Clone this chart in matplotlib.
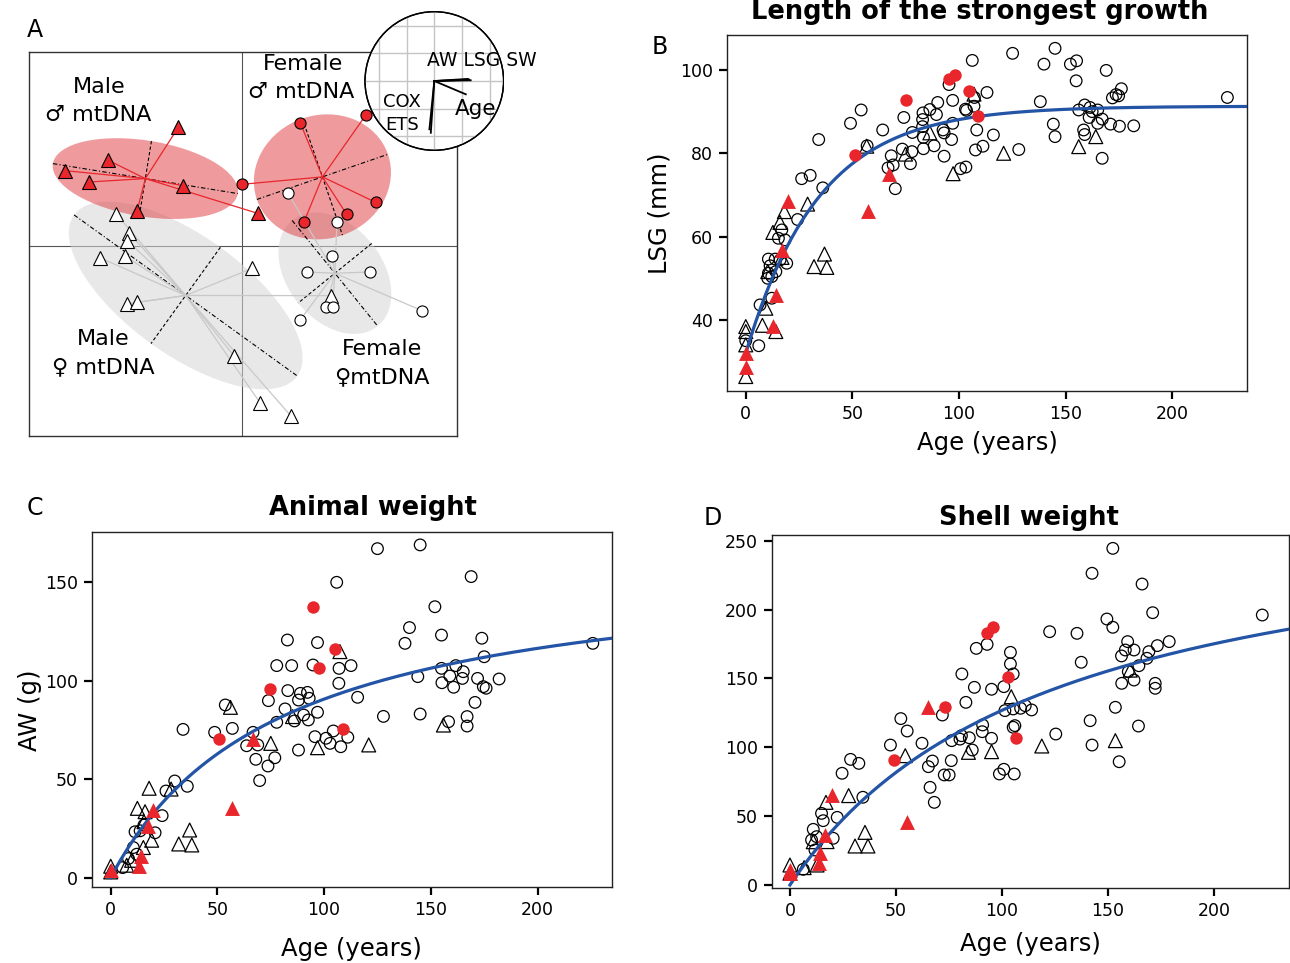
import numpy as np
import matplotlib
matplotlib.use("Agg")
import matplotlib.pyplot as plt
from matplotlib.patches import Ellipse, Circle

RED = '#e8262b'
BLUE = '#2454a6'

# ---------------- panel A: ordination scores (plot units) ----------------
a_red_tri_x = [475, 263, 135, 208, 488, 351, 713]
a_red_tri_y = [382, 480, 512, 546, 557, 634, 640]
a_red_dot_x = [841, 1037, 667, 1067, 980, 852]
a_red_dot_y = [369, 346, 553, 607, 643, 666]
a_fem_dot_x = [804, 951, 936, 860, 1050, 918, 938, 840, 1206]
a_fem_dot_y = [579, 666, 768, 816, 816, 920, 920, 961, 932]
a_fem_tri_x = [288, 326, 322, 239, 315, 697, 320, 351, 643, 720, 812, 933]
a_fem_tri_y = [641, 698, 722, 773, 768, 805, 912, 907, 1069, 1208, 1247, 887]

# ellipse semi-axes and angles, in the order: male ♂mtDNA, male ♀mtDNA,
# female ♀mtDNA, female ♂mtDNA
ell_major = [281, 413, 204, 208]
ell_minor = [114, 178, 142, 185]
ell_angle = [9.2, 35.8, 51.0, -19.0]

# loading vectors of the inset
load_names = ['AW', 'LSG', 'SW', 'Age', 'COX', 'ETS']
load_x = [0.50, 0.52, 0.48, 0.45, -0.05, -0.07]
load_y = [0.02, 0.01, 0.03, -0.19, -0.74, -0.69]

# ---------------- panel B: LSG (mm) ----------------
b_circ_age = [145, 125.1, 139.8, 152.2, 155.1, 169, 106.2, 95.3, 154.9, 176.1, 174.8, 171.9,
              173.6, 225.8, 138.1, 113.1, 107.2, 107.0, 103, 97.0, 90, 86.3, 83.1, 82.9, 89.4,
              82.9, 54.1, 49.1, 64.2, 74.1, 78.1, 73.4, 77.9, 77.2, 68.2, 69.1, 66.7, 70.1, 83.3,
              83.3, 88.3, 93.0, 92.5, 93, 96.5, 97, 103.5, 108.3, 107.7, 111.2, 116.1, 128,
              100.7, 103.2, 144.2, 145, 156.1, 158.9, 161.4, 162.4, 161, 165, 167.1, 165, 171,
              175.2, 181.9, 158.4, 158.9, 167.1, 56.9, 34.2, 26.2, 30.2, 36.1, 24.3, 6.1, 0,
              16.9, 15.3, 18.4, 10.6, 13.8, 16.1, 19.2, 11.4, 10.6, 14.1, 10.3, 12.2, 12.2, 6.7]
b_circ_val = [105.2, 104.0, 101.4, 101.4, 102.2, 99.9, 102.3, 96.5, 97.4, 95.5, 93.8, 93.3,
              94.1, 93.4, 92.4, 94.6, 93.4, 91.3, 90.6, 92.7, 92.2, 90.5, 89.7, 88.1, 89.3,
              86.4, 90.4, 87.2, 85.6, 88.6, 85.0, 81.0, 80.4, 77.5, 79.4, 77.2, 76.5, 71.5, 83.8,
              81.1, 81.8, 79.3, 85.6, 84.9, 83.3, 87.2, 90.3, 85.6, 80.8, 81.7, 84.4, 80.9,
              76.3, 76.7, 87.0, 84.0, 90.4, 91.6, 91.0, 90.0, 88.6, 90.4, 88.2, 87.2, 87.0,
              86.5, 86.6, 85.6, 84.5, 78.8, 81.8, 83.3, 73.9, 74.7, 71.7, 64.1, 33.8, 35.0,
              61.6, 59.6, 59.2, 54.6, 54.6, 54.4, 53.6, 53.0, 51.2, 51.6, 50.0, 50.4, 45.2, 43.6]
b_tri_age = [56.7, 74.9, 86.3, 97.2, 107, 120.9, 156.1, 164.1, 29, 18.1, 16, 12.7, 36.9, 32, 38,
             9.4, 7.8, 0, 0, 14.1, 0, 0, 10.3, 17]
b_tri_val = [81.7, 79.8, 84.9, 75.1, 94.2, 80, 81.6, 84.0, 67.8, 66, 63.4, 61, 55.8, 52.8, 52.6,
             42.8, 38.7, 38.4, 37.2, 37.2, 34, 26.4, 51.6, 55]
b_rdot_age = [51, 75.3, 95.3, 98.2, 104.7, 109.1]
b_rdot_val = [79.6, 92.8, 97.8, 98.8, 95.0, 88.9]
b_rtri_age = [20, 57.2, 16.9, 14.1, 13, 0, 0, 67]
b_rtri_val = [68.6, 66.2, 56.8, 46, 38.6, 32, 28.8, 75.1]
b_fit = dict(linf=91.3, l0=32.0, k=0.0292)

# ---------------- panel C: AW (g) ----------------
c_circ_age = [125, 145, 105.9, 168.9, 151.9, 140, 137.9, 155, 173.9, 225.9, 82.8, 96.9, 77.8,
              84.8, 94.8, 107, 112.6, 106.9, 83, 88.9, 92.2, 88, 93, 115.7, 73.9, 81.7, 86.1,
              90.4, 92.6, 96.9, 77.8, 95.7, 100.9, 104.3, 102.8, 107.8, 111.1, 127.8, 88, 68.9,
              63.7, 68, 76.9, 73.7, 69.8, 53.7, 57, 48.7, 66.7, 33.9, 35.9, 30, 25.9, 24.1,
              155, 143.9, 155.2, 160.7, 158.9, 161.7, 165.2, 164.8, 171.9, 175, 174.6, 175.9,
              182, 170.7, 145, 158.3, 167, 167, 11.4, 20.8, 10.6, 12.2, 8.3, 5.6, 13.8, 15.6]
c_circ_val = [167.1, 169, 150, 152.9, 137.6, 127, 119, 123.2, 121.6, 119, 120.7, 119.4, 107.7,
              107.7, 108, 106.3, 107.7, 98.7, 95, 93.6, 94.1, 90.2, 91.1, 91.6, 89.9, 85.7, 79.6,
              82.6, 80.1, 84, 78.9, 71.6, 70.8, 74.5, 68.2, 66.5, 71.3, 81.9, 64.8, 67.4,
              67, 60.1, 60.9, 56.7, 49.3, 87.7, 75.8, 73.8, 73.8, 75.3, 46.4, 49.1, 44, 31.5,
              106.3, 102.1, 99, 96.7, 102.4, 107.7, 104.6, 101.2, 101.2, 112.2, 97, 96.2,
              100.9, 89, 83.1, 79.2, 81.8, 77, 23.3, 22.8, 15.3, 11.9, 9.7, 5.1, 23.8, 26.7]
c_tri_age = [56.1, 75, 96.9, 107.4, 120.9, 155.9, 85.2, 28.3, 18, 12.5, 16.1, 15.6, 37, 31.9, 38,
             19.2, 15.3, 9.8, 7.5, 0, 0]
c_tri_val = [86.5, 68.2, 66, 114.8, 67.4, 77.5, 81.8, 45, 45.4, 35.2, 33.5, 28.4, 24.2, 17.1,
             16.6, 19, 15.3, 8.8, 6.3, 5.8, 2.9]
c_rdot_age = [50.9, 74.8, 94.8, 97.8, 105, 108.9]
c_rdot_val = [70.4, 96, 137.6, 106.3, 116, 75.7]
c_rtri_age = [66.7, 57, 20, 17.7, 14.1, 13.4, 0]
c_rtri_val = [70.3, 35.6, 34.4, 26.2, 10.9, 5.8, 3.7]
c_fit = dict(a=162.7, b=79.4)

# ---------------- panel D: SW (g) ----------------
d_circ_age = [152.3, 142.5, 166.1, 171.1, 222.8, 149.5, 152.3, 122.5, 135.4, 137.4, 159.3, 158.2,
              162.3, 156.4, 169.3, 173.3, 178.9, 168.4, 164.6, 159.6, 162.3, 156.5, 172.3, 172.3,
              153.5, 141.6, 142.5, 155.3, 164.4, 93, 87.9, 104, 104, 105.3, 81.1, 83, 87, 95.1,
              100.9, 101.4, 105.3, 108.8, 111, 114, 105.3, 106.1, 125.4, 90.9, 90.7, 95.1, 80.9,
              80.2, 84.6, 86, 76.3, 76.1, 67.2, 65.3, 72.8, 75.1, 66.1, 68.1, 98.8, 100.9, 105.8,
              71.9, 52.3, 55.3, 62.3, 47.4, 28.6, 32.5, 24.6, 34.4, 22.3, 14.9, 15.7, 11, 12.6,
              10.2, 11.8, 20.4, 6.3]
d_circ_val = [244.4, 226.3, 218.5, 197.7, 196, 193.1, 187.1, 183.9, 182.7, 161.7, 176.7, 170.6,
              170.6, 166.3, 169.4, 173.8, 176.7, 164.6, 159.2, 154.9, 148.8, 146.4, 146.4, 142.8,
              129, 119.3, 101.6, 89.5, 115.4, 174.7, 171.8, 168.9, 160.5, 153.2, 153.2, 132.6,
              143.5, 142.1, 144, 126.6, 127.8, 128.3, 130.2, 127.1, 114.5, 115.7, 109.6, 116.2,
              111.3, 106.5, 108.4, 105.9, 106.9, 98, 104.8, 90.3, 90, 85.9, 79.9, 79.9, 70.9, 60,
              80.6, 84, 80.6, 123.4, 120.8, 111.8, 102.9, 101.6, 91.2, 88.3, 81.1, 63.7, 49.1,
              52, 46.7, 40.4, 35.1, 32.7, 25.4, 33.9, 11.4]
d_tri_age = [54.4, 84.2, 95.1, 104.4, 118.8, 153.5, 160.5, 27.7, 17, 35.4, 30.7, 36.8, 17.5, 12.8,
             6.7, 0, 0, 11]
d_tri_val = [93.9, 96.3, 96.8, 136.7, 100.9, 104.8, 156, 64.9, 60, 38.2, 28.3, 28.3, 31.5, 14.5,
             12.6, 14.5, 8.5, 31.4]
d_rdot_age = [49.1, 73, 93, 96, 102.8, 106.7]
d_rdot_val = [90.8, 129.5, 183.2, 187.6, 151.3, 107]
d_rtri_age = [65.3, 55.3, 19.7, 16.5, 14.2, 13.8, 0, 0]
d_rtri_val = [129, 45.5, 65.3, 36.3, 23, 16.2, 10.9, 8.5]
d_fit = dict(a=282.9, b=123.1)

W, H = 1290, 963
fig = plt.figure(figsize=(W / 100, H / 100), dpi=100)


def box(l, r, t, b):
    return [l / W, 1 - b / H, (r - l) / W, (b - t) / H]


# ---------------- panel A ----------------
axA = fig.add_axes(box(29.3, 457.3, 52.3, 436))
axA.set_xlim(28, 1312)
axA.set_ylim(1308, 157)
axA.set_xticks([])
axA.set_yticks([])
for s in axA.spines.values():
    s.set_color('#333333')
    s.set_linewidth(1)
axA.axvline(665, color='#555555', lw=0.8, zorder=0.5)
axA.axhline(737, color='#555555', lw=0.8, zorder=0.5)

groups = [
    (a_red_tri_x, a_red_tri_y, '^', True),
    (a_fem_tri_x, a_fem_tri_y, '^', False),
    (a_fem_dot_x, a_fem_dot_y, 'o', False),
    (a_red_dot_x, a_red_dot_y, 'o', True),
]
for i, (gx, gy, mk, red) in enumerate(groups):
    cx, cy = np.mean(gx), np.mean(gy)
    ang = np.deg2rad(ell_angle[i])
    if red:
        fc, alpha, lc, z = '#e0393e', 0.5, RED, 1.5
    else:
        fc, alpha, lc, z = '#d6d6d6', 0.55, '#c8c8c8', 1
    axA.add_patch(Ellipse((cx, cy), 2 * ell_major[i], 2 * ell_minor[i], angle=ell_angle[i],
                          facecolor=fc, alpha=alpha, edgecolor='none', zorder=z))
    ux, uy = np.cos(ang), np.sin(ang)
    axA.plot([cx - ell_major[i] * ux, cx + ell_major[i] * ux],
             [cy - ell_major[i] * uy, cy + ell_major[i] * uy],
             color='black', lw=0.8, dashes=(4, 2, 1, 2), zorder=2)
    axA.plot([cx + ell_minor[i] * uy, cx - ell_minor[i] * uy],
             [cy - ell_minor[i] * ux, cy + ell_minor[i] * ux],
             color='black', lw=0.8, dashes=(3, 2), zorder=2)
    for px, py in zip(gx, gy):
        axA.plot([cx, px], [cy, py], color=lc, lw=0.9, zorder=2.5)

for gx, gy, mk, red in groups:
    ms = 10 if mk == '^' else 8
    axA.plot(gx, gy, mk, ms=ms, mfc=RED if red else 'white', mec='black', mew=0.8,
             ls='none', zorder=4)

lab_kw = dict(ha='center', va='center', fontsize=16)
axA.text(237, 262, 'Male', **lab_kw)
axA.text(235, 345, '\u2642 mtDNA', **lab_kw)
axA.text(848, 192, 'Female', **lab_kw)
axA.text(845, 275, '\u2642 mtDNA', **lab_kw)
axA.text(250, 1018, 'Male', **lab_kw)
axA.text(250, 1102, '\u2640 mtDNA', **lab_kw)
axA.text(1085, 1048, 'Female', **lab_kw)
axA.text(1085, 1133, '\u2640mtDNA', **lab_kw)

# inset with loadings
axI = fig.add_axes([(434.3 - 70) / W, 1 - (81 + 70) / H, 140 / W, 140 / H])
axI.set_xlim(-1, 1)
axI.set_ylim(-1, 1)
axI.axis('off')
circ = Circle((0, 0), 0.99, facecolor='white', edgecolor='black', lw=1, zorder=1)
axI.add_patch(circ)
for g in [-0.79, -0.395, 0, 0.395, 0.79]:
    for ln in (axI.plot([g, g], [-1, 1], color='#c4c4c4', lw=1, zorder=2) +
               axI.plot([-1, 1], [g, g], color='#c4c4c4', lw=1, zorder=2)):
        ln.set_clip_path(circ)
for lx, ly in zip(load_x, load_y):
    axI.plot([0, lx], [0, ly], color='black', lw=1.3, zorder=3)
axI.add_patch(Circle((0, 0), 0.99, facecolor='none', edgecolor='black', lw=1, zorder=4))
axI.text(-0.11, 0.29, ' '.join(load_names[:3]), fontsize=13.5, va='center', ha='left',
         clip_on=False, zorder=5)
axI.text(0.29, -0.40, load_names[3], fontsize=15.5, va='center', ha='left', zorder=5)
axI.text(-0.73, -0.30, load_names[4], fontsize=13, va='center', ha='left', zorder=5)
axI.text(-0.70, -0.63, load_names[5], fontsize=13, va='center', ha='left', zorder=5)


# ---------------- scatter panels ----------------
def scatter_panel(ax, circ_a, circ_v, tri_a, tri_v, rdot_a, rdot_v, rtri_a, rtri_v, cx, cy):
    ax.scatter(circ_a, circ_v, s=70, marker='o', facecolors='none', edgecolors='black',
               linewidths=0.9, zorder=2)
    ax.scatter(tri_a, tri_v, s=100, marker='^', facecolors='none', edgecolors='black',
               linewidths=0.9, zorder=2)
    ax.plot(cx, cy, color=BLUE, lw=2.3, zorder=3)
    ax.scatter(rdot_a, rdot_v, s=80, marker='o', color=RED, linewidths=0, zorder=4)
    ax.scatter(rtri_a, rtri_v, s=115, marker='^', color=RED, linewidths=0, zorder=4)
    ax.set_xticks([0, 50, 100, 150, 200])
    ax.tick_params(direction='out', length=6, width=1.6, labelsize=12.5, pad=4)
    for s in ax.spines.values():
        s.set_color('#222222')
        s.set_linewidth(1)


axB = fig.add_axes(box(727, 1247, 35, 390.7))
ageB = np.linspace(0, 235, 300)
fitB = b_fit['linf'] - (b_fit['linf'] - b_fit['l0']) * np.exp(-b_fit['k'] * ageB)
scatter_panel(axB, b_circ_age, b_circ_val, b_tri_age, b_tri_val, b_rdot_age, b_rdot_val,
              b_rtri_age, b_rtri_val, ageB, fitB)
axB.set_xlim(-8.8, 235)
axB.set_ylim(23.0, 108.4)
axB.set_yticks([40, 60, 80, 100])
axB.set_xlabel('Age (years)', fontsize=17.5, labelpad=6)
axB.set_ylabel('LSG (mm)', fontsize=17.5, labelpad=6)
fig.text(980 / W, 1 - 12 / H, 'Length of the strongest growth', fontsize=18.5,
         fontweight='bold', ha='center', va='center')

axC = fig.add_axes(box(91.7, 611.8, 532.3, 887.3))
ageC = np.linspace(0, 235, 300)
fitC = c_fit['a'] * ageC / (c_fit['b'] + ageC)
scatter_panel(axC, c_circ_age, c_circ_val, c_tri_age, c_tri_val, c_rdot_age, c_rdot_val,
              c_rtri_age, c_rtri_val, ageC, fitC)
axC.set_xlim(-8.9, 234.8)
axC.set_ylim(-4.9, 175.4)
axC.set_yticks([0, 50, 100, 150])
axC.set_xlabel('Age (years)', fontsize=17.5, labelpad=13)
axC.set_ylabel('AW (g)', fontsize=17.5, labelpad=2)
fig.text(373 / W, 1 - 508 / H, 'Animal weight', fontsize=18.5, fontweight='bold',
         ha='center', va='center')

axD = fig.add_axes(box(771.7, 1289, 535, 888.3))
ageD = np.linspace(0, 236, 300)
fitD = d_fit['a'] * ageD / (d_fit['b'] + ageD)
scatter_panel(axD, d_circ_age, d_circ_val, d_tri_age, d_tri_val, d_rdot_age, d_rdot_val,
              d_rtri_age, d_rtri_val, ageD, fitD)
axD.set_xlim(-8.6, 235.4)
axD.set_ylim(-2.4, 254.1)
axD.set_yticks([0, 50, 100, 150, 200, 250])
axD.set_xlabel('Age (years)', fontsize=17.5, labelpad=8.5)
fig.text(1029 / W, 1 - 518 / H, 'Shell weight', fontsize=18.5, fontweight='bold',
         ha='center', va='center')

# panel letters
for letter, x, y in [('A', 35, 30), ('B', 660, 47), ('C', 35, 508), ('D', 713, 518)]:
    fig.text(x / W, 1 - y / H, letter, fontsize=17, ha='center', va='center')

fig.savefig('out.png', dpi=100)
